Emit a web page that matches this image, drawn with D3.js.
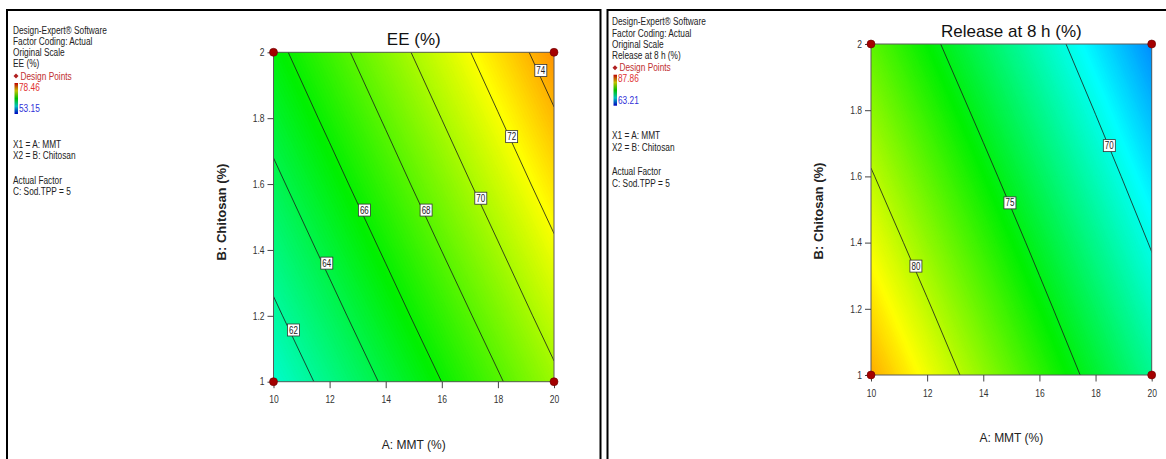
<!DOCTYPE html>
<html>
<head>
<meta charset="utf-8">
<script src="https://cdn.jsdelivr.net/npm/d3@7"></script>
<style>
  body { margin: 0; background: #fff; }
  svg { display: block; }
  .narrow { font-family: "Liberation Sans Narrow", "Arial Narrow", "Liberation Sans", Arial, sans-serif; }
  .sans { font-family: "Liberation Sans", Arial, sans-serif; }
</style>
</head>
<body>
<svg id="chart" width="1166" height="459"></svg>
<script>
// Factor levels at which the response surface is tabulated
const mmtLevels = [10, 12, 14, 16, 18, 20];
const chitosanLevels = [1.0, 1.2, 1.4, 1.6, 1.8, 2.0];
const mmtTicks = [10, 12, 14, 16, 18, 20];
const chitosanTicks = [1, 1.2, 1.4, 1.6, 1.8, 2];

// Predicted EE (%) — rows: chitosan 1.0 → 2.0, columns: MMT 10 → 20
const eeSurface = [
  [60.77, 62.48, 64.23, 66.01, 67.82, 69.67],
  [61.72, 63.45, 65.22, 67.01, 68.84, 70.71],
  [62.67, 64.42, 66.20, 68.02, 69.86, 71.74],
  [63.62, 65.39, 67.19, 69.02, 70.88, 72.78],
  [64.58, 66.36, 68.17, 70.02, 71.90, 73.82],
  [65.53, 67.32, 69.16, 71.02, 72.92, 74.86]
];
// Predicted release at 8 h (%) — same layout
const releaseSurface = [
  [83.70, 81.36, 79.03, 76.69, 74.36, 72.02],
  [82.52, 80.20, 77.88, 75.57, 73.25, 70.93],
  [81.33, 79.03, 76.74, 74.44, 72.14, 69.85],
  [80.15, 77.87, 75.59, 73.31, 71.04, 68.76],
  [78.96, 76.70, 74.44, 72.19, 69.93, 67.67],
  [77.78, 75.54, 73.30, 71.06, 68.82, 66.59]
];

const eeContourLevels = [62, 64, 66, 68, 70, 72, 74];
const eeLabelMMT = [10.71, 11.90, 13.24, 15.44, 17.39, 18.49, 19.53];
const eeLabelChitosan = [1.157, 1.36, 1.521, 1.521, 1.557, 1.744, 1.945];
const releaseContourLevels = [70, 75, 80];
const releaseLabelMMT = [18.49, 14.95, 11.60];
const releaseLabelChitosan = [1.693, 1.52, 1.329];

// Observed response ranges (colour legend)
const eeRange = [53.15, 78.46];
const releaseRange = [63.21, 87.86];

// Design points shown on the slice
const designMMT = [10, 20, 10, 20];
const designChitosan = [1, 1, 2, 2];

const svg = d3.select("#chart");

// Squeeze text horizontally so it reads like a condensed face
function condense(sel, factor) {
  sel.each(function () {
    const len = this.getComputedTextLength();
    if (len > 0) {
      d3.select(this).attr("textLength", (len * factor).toFixed(2))
        .attr("lengthAdjust", "spacingAndGlyphs");
    }
  });
}

// Panel frames
svg.append("path").attr("d", "M7,459V10H600.5V459")
  .attr("fill", "none").attr("stroke", "#000").attr("stroke-width", 2);
svg.append("path").attr("d", "M607.5,459V10H1166")
  .attr("fill", "none").attr("stroke", "#000").attr("stroke-width", 2);

const panels = [
  {
    key: "ee", title: "EE (%)", response: "EE (%)",
    surface: eeSurface, levels: eeContourLevels, range: eeRange,
    labelA: eeLabelMMT, labelB: eeLabelChitosan,
    plot: { x0: 273.5, x1: 554, y0: 52.3, y1: 381.7 },
    titleY: 44.5, xLabelY: 449, yLabelX: 221, yLabelY: 212,
    legendX: 13, legendTop: 30
  },
  {
    key: "rel", title: "Release at 8 h (%)", response: "Release at 8 h (%)",
    surface: releaseSurface, levels: releaseContourLevels, range: releaseRange,
    labelA: releaseLabelMMT, labelB: releaseLabelChitosan,
    plot: { x0: 871, x1: 1151.7, y0: 44, y1: 375 },
    titleY: 36.5, xLabelY: 442, yLabelX: 818, yLabelY: 211,
    legendX: 612, legendTop: 21.7
  }
];

const colourStops = ["#0000ff", "#00ffff", "#00f000", "#ffff00", "#ff0000"];

panels.forEach((p) => {
  const x = d3.scaleLinear().domain([10, 20]).range([p.plot.x0, p.plot.x1]);
  const y = d3.scaleLinear().domain([1, 2]).range([p.plot.y1, p.plot.y0]);
  const colour = d3.scaleLinear()
    .domain(d3.range(5).map(i => p.range[0] + i / 4 * (p.range[1] - p.range[0])))
    .range(colourStops).clamp(true);

  const nx = mmtLevels.length, ny = chitosanLevels.length;
  const flat = p.surface.flat();
  const aStep = mmtLevels[1] - mmtLevels[0];
  const bStep = chitosanLevels[1] - chitosanLevels[0];
  // grid coordinate (sample i sits at i + 0.5) → pixel
  const toPixel = d3.geoTransform({
    point: function (gx, gy) {
      const a = mmtLevels[0] + (gx - 0.5) * aStep;
      const b = chitosanLevels[0] + (gy - 0.5) * bStep;
      this.stream.point(x(a), y(b));
    }
  });
  const path = d3.geoPath(toPixel);

  const clipId = "clip-" + p.key;
  svg.append("clipPath").attr("id", clipId).append("rect")
    .attr("x", p.plot.x0).attr("y", p.plot.y0)
    .attr("width", p.plot.x1 - p.plot.x0).attr("height", p.plot.y1 - p.plot.y0);

  const g = svg.append("g").attr("clip-path", `url(#${clipId})`);
  const vMin = d3.min(flat), vMax = d3.max(flat);

  // Continuous colour fill built from finely spaced filled contours
  g.append("rect").attr("x", p.plot.x0).attr("y", p.plot.y0)
    .attr("width", p.plot.x1 - p.plot.x0).attr("height", p.plot.y1 - p.plot.y0)
    .attr("fill", colour(vMin));
  const fineSteps = d3.range(Math.ceil(vMin * 10) / 10, vMax, 0.1);
  const bands = d3.contours().size([nx, ny]).thresholds(fineSteps)(flat);
  g.selectAll("path.band").data(bands).join("path")
    .attr("class", "band")
    .attr("d", path)
    .attr("fill", d => colour(d.value + 0.05))
    .attr("stroke", d => colour(d.value + 0.05))
    .attr("stroke-width", 0.3);

  // Contour lines
  const lines = d3.contours().size([nx, ny]).thresholds(p.levels)(flat);
  g.selectAll("path.iso").data(lines).join("path")
    .attr("class", "iso")
    .attr("d", path)
    .attr("fill", "none")
    .attr("stroke", "#1a1a1a")
    .attr("stroke-width", 0.8);

  // Plot border
  svg.append("rect").attr("x", p.plot.x0).attr("y", p.plot.y0)
    .attr("width", p.plot.x1 - p.plot.x0).attr("height", p.plot.y1 - p.plot.y0)
    .attr("fill", "none").attr("stroke", "#5a5a5a").attr("stroke-width", 1);

  // Contour value labels
  const lab = svg.append("g").attr("class", "narrow");
  p.levels.forEach((lv, i) => {
    const cx = x(p.labelA[i]), cy = y(p.labelB[i]);
    lab.append("rect").attr("x", cx - 6).attr("y", cy - 6)
      .attr("width", 12).attr("height", 12)
      .attr("fill", "#fff").attr("stroke", "#333").attr("stroke-width", 0.8);
    lab.append("text").attr("x", cx).attr("y", cy).attr("dy", "0.36em")
      .attr("text-anchor", "middle").attr("font-size", 10).attr("fill", "#222")
      .text(lv);
  });
  condense(lab.selectAll("text"), 0.8);

  // Axes
  const xAxis = svg.append("g").attr("class", "narrow")
    .attr("transform", `translate(0,${p.plot.y1})`)
    .call(d3.axisBottom(x).tickValues(mmtTicks).tickSize(6.5).tickPadding(8).tickFormat(d => d));
  const yAxis = svg.append("g").attr("class", "narrow")
    .attr("transform", `translate(${p.plot.x0},0)`)
    .call(d3.axisLeft(y).tickValues(chitosanTicks).tickSize(6).tickPadding(3).tickFormat(d => d));
  [xAxis, yAxis].forEach(ax => {
    ax.select(".domain").remove();
    ax.selectAll("line").attr("stroke", "#444");
    ax.selectAll("text").attr("font-size", 10).attr("fill", "#333")
      .attr("font-family", null);
    condense(ax.selectAll("text"), 0.85);
  });

  // Design points
  svg.append("g").selectAll("circle").data(designMMT.map((a, i) => [a, designChitosan[i]]))
    .join("circle")
    .attr("cx", d => x(d[0])).attr("cy", d => y(d[1])).attr("r", 4)
    .attr("fill", "#a40000").attr("stroke", "#6a0000").attr("stroke-width", 0.6);

  // Titles
  const midX = (p.plot.x0 + p.plot.x1) / 2;
  svg.append("text").attr("class", "sans").attr("x", midX).attr("y", p.titleY)
    .attr("text-anchor", "middle").attr("font-size", 17).attr("fill", "#111")
    .text(p.title);
  svg.append("text").attr("class", "sans").attr("x", midX).attr("y", p.xLabelY)
    .attr("text-anchor", "middle").attr("font-size", 12).attr("fill", "#222")
    .text("A: MMT (%)");
  svg.append("text").attr("class", "sans")
    .attr("transform", `translate(${p.yLabelX},${p.yLabelY}) rotate(-90)`)
    .attr("text-anchor", "middle").attr("dy", "0.36em")
    .attr("font-size", 13).attr("font-weight", "bold").attr("fill", "#222")
    .text("B: Chitosan (%)");

  // Side legend
  const lg = svg.append("g").attr("class", "narrow").attr("font-size", 10);
  const L = p.legendX, T = p.legendTop;
  const line = (txt, dy, fill, dx = 0) =>
    lg.append("text").attr("x", L + dx).attr("y", T + dy).attr("dy", "0.35em")
      .attr("fill", fill).text(txt);
  line("Design-Expert® Software", 0, "#222");
  line("Factor Coding: Actual", 11.3, "#222");
  line("Original Scale", 22.6, "#222");
  line(p.response, 33.9, "#222");
  lg.append("path")
    .attr("d", `M${L + 3},${T + 43.5}l2.5,2.5l-2.5,2.5l-2.5,-2.5z`)
    .attr("fill", "#b02020");
  line("Design Points", 46, "#c03030", 7.5);
  const gradId = "grad-" + p.key;
  const grad = svg.append("defs").append("linearGradient").attr("id", gradId)
    .attr("x1", 0).attr("y1", 1).attr("x2", 0).attr("y2", 0);
  ["#0000c0", "#00c0c0", "#00c000", "#c0c000", "#c00000"].forEach((c, i) =>
    grad.append("stop").attr("offset", i / 4).attr("stop-color", c));
  lg.append("rect").attr("x", L + 1.5).attr("y", T + 53).attr("width", 3.5).attr("height", 31)
    .attr("fill", `url(#${gradId})`);
  line(d3.format(".2f")(p.range[1]), 57, "#e03030", 6);
  line(d3.format(".2f")(p.range[0]), 78.5, "#3030d8", 6);
  line("X1 = A: MMT", 114, "#222");
  line("X2 = B: Chitosan", 125.3, "#222");
  line("Actual Factor", 150, "#222");
  line("C: Sod.TPP = 5", 161.5, "#222");
  condense(lg.selectAll("text"), 0.83);
});
</script>
</body>
</html>
